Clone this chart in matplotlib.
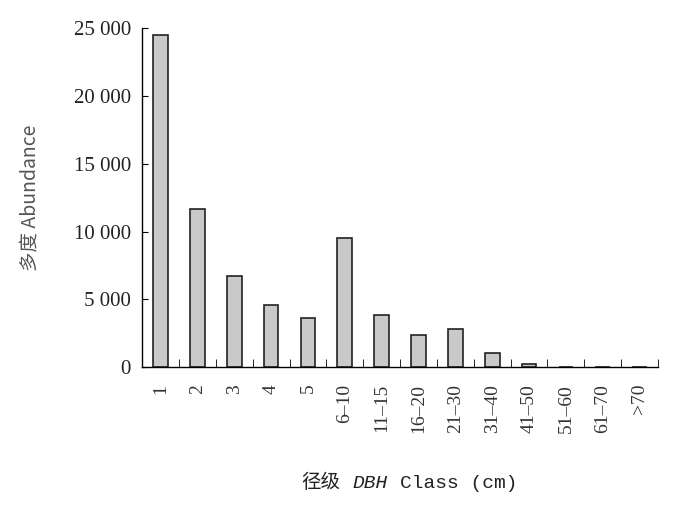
import matplotlib
matplotlib.use("Agg")
import matplotlib.pyplot as plt
from matplotlib.offsetbox import TextArea, HPacker, AnchoredOffsetbox
import numpy as np

categories = ["1", "2", "3", "4", "5", "6\u201310", "11\u201315", "16\u201320", "21\u201330",
              "31\u201340", "41\u201350", "51\u201360", "61\u201370", ">70"]
abundance = [24500, 11650, 6700, 4550, 3600, 9500, 3830, 2380, 2800, 1030, 200, 30, 0, 0]
yticks = [0, 5000, 10000, 15000, 20000, 25000]
ytick_labels = ["0", "5 000", "10 000", "15 000", "20 000", "25 000"]

fig = plt.figure(figsize=(7, 5.2), dpi=100)
ax = fig.add_axes([0.203, 0.294, 0.737, 0.652])

x = np.arange(len(categories))
ax.bar(x, abundance, width=0.4, color="#c9c9c9", edgecolor="#222222", linewidth=1.2)

ax.set_xlim(-0.5, len(categories) - 0.5)
ax.set_ylim(0, 25000)
ax.spines["top"].set_visible(False)
ax.spines["right"].set_visible(False)
ax.spines["left"].set_linewidth(1.0)
ax.spines["bottom"].set_linewidth(1.0)

ax.set_yticks(yticks)
ax.set_yticklabels(ytick_labels, fontsize=15, family=["Liberation Serif"], color="#222222")
ax.tick_params(axis="y", direction="in", length=4, pad=8)

ax.set_xticks(x)
ax.set_xticklabels(categories, rotation=90, fontsize=14, family=["Liberation Serif"], color="#333333")
ax.tick_params(axis="x", which="major", length=0, pad=12)
ax.set_xticks(np.arange(len(categories) + 1) - 0.5, minor=True)
ax.tick_params(axis="x", which="minor", direction="in", length=6)

ax.set_ylabel("多度 Abundance", fontsize=14, color="#555555",
              family=["Noto Sans CJK SC", "DejaVu Sans"], labelpad=24)

# x label composed of pieces (CJK, italic DBH, monospace rest)
parts = [
    TextArea("径级", textprops=dict(fontsize=14, color="#222222", family=["Noto Sans CJK SC"])),
    TextArea("DBH", textprops=dict(fontsize=14, color="#222222", family=["Liberation Mono"], style="italic")),
    TextArea("Class (cm)", textprops=dict(fontsize=14, color="#222222", family=["Liberation Mono"])),
]
box = HPacker(children=parts, align="baseline", pad=0, sep=9)
anch = AnchoredOffsetbox(loc="center", child=box, frameon=False,
                         bbox_to_anchor=(0.585, 0.073), bbox_transform=fig.transFigure, pad=0)
fig.add_artist(anch)

fig.savefig("out.png", dpi=100)
